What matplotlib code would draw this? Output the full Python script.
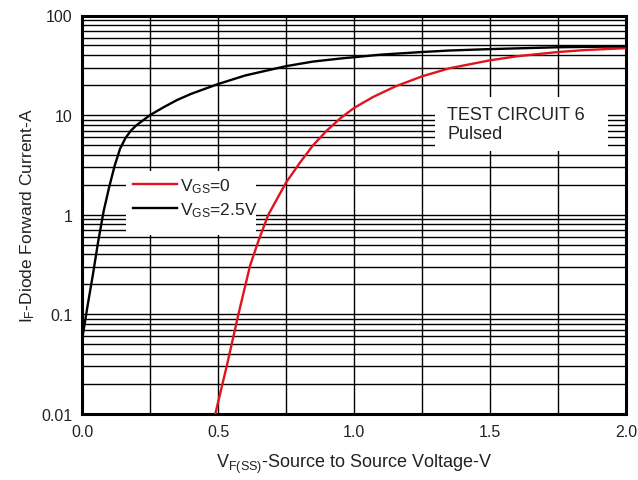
import matplotlib
matplotlib.use("Agg")
import matplotlib.pyplot as plt
from matplotlib.patches import Rectangle
from matplotlib.ticker import LogLocator, MultipleLocator, FixedLocator, FixedFormatter, NullFormatter

plt.rcParams['font.family'] = ['Liberation Sans', 'DejaVu Sans']
plt.rcParams['mathtext.fontset'] = 'custom'
plt.rcParams['mathtext.rm'] = 'Liberation Sans'
plt.rcParams['mathtext.it'] = 'Liberation Sans'
plt.rcParams['mathtext.bf'] = 'Liberation Sans'

# Data
v_gs25 = [0.0, 0.02, 0.04, 0.06, 0.08, 0.10, 0.12, 0.14, 0.16, 0.18, 0.20, 0.25, 0.30, 0.35, 0.40,
          0.50, 0.60, 0.75, 0.85, 0.95, 1.10, 1.25, 1.35, 1.50, 1.75, 2.00]
i_gs25 = [0.055, 0.12, 0.25, 0.55, 1.1, 1.9, 3.1, 4.6, 5.9, 7.0, 7.9, 10.0, 12.0, 14.2, 16.3,
          20.5, 25.0, 31.0, 34.5, 37.0, 40.5, 43.0, 44.5, 46.0, 48.0, 49.0]

v_gs0 = [0.49, 0.533, 0.575, 0.618, 0.65, 0.685, 0.75, 0.80, 0.85, 0.90, 0.95, 1.00, 1.07, 1.15,
         1.25, 1.35, 1.50, 1.60, 1.75, 1.85, 2.00]
i_gs0 = [0.01, 0.031, 0.10, 0.31, 0.56, 1.0, 2.1, 3.3, 5.0, 7.0, 9.3, 11.8, 15.2, 19.3,
         24.5, 29.5, 35.5, 39.0, 43.0, 45.0, 47.0]

x_ticks = [0.0, 0.5, 1.0, 1.5, 2.0]
x_labels = ["0.0", "0.5", "1.0", "1.5", "2.0"]
y_ticks = [0.01, 0.1, 1, 10, 100]
y_labels = ["0.01", "0.1", "1", "10", "100"]

fig = plt.figure(figsize=(6.38, 4.81), dpi=100)
ax = fig.add_axes([82/638, 1-415/481, 544/638, 398.5/481])

ax.set_yscale('log')
ax.set_xlim(0, 2.0)
ax.set_ylim(0.01, 100)

ax.xaxis.set_major_locator(FixedLocator(x_ticks))
ax.xaxis.set_major_formatter(FixedFormatter(x_labels))
ax.xaxis.set_minor_locator(MultipleLocator(0.25))
ax.yaxis.set_major_locator(FixedLocator(y_ticks))
ax.yaxis.set_major_formatter(FixedFormatter(y_labels))
ax.yaxis.set_minor_locator(LogLocator(base=10, subs=range(2, 10), numticks=20))
ax.yaxis.set_minor_formatter(NullFormatter())

ax.set_axisbelow(True)
ax.grid(which='both', color='black', linewidth=1.0)
ax.tick_params(which='both', length=0, labelsize=11.5, colors='#222222')
ax.tick_params(axis='y', pad=7)
ax.tick_params(axis='x', pad=7)

for s in ax.spines.values():
    s.set_linewidth(2.2)
    s.set_color('black')

# white boxes behind legend and note
ax.add_patch(Rectangle((0.081, 0.449), 0.239, 0.161, transform=ax.transAxes,
                       facecolor='white', edgecolor='none', zorder=1))
ax.add_patch(Rectangle((0.649, 0.66), 0.318, 0.1355, transform=ax.transAxes,
                       facecolor='white', edgecolor='none', zorder=1))

ax.plot(v_gs0, i_gs0, color='#e0141e', linewidth=1.7, zorder=3, label=r'V$_{GS}$=0')
ax.plot(v_gs25, i_gs25, color='black', linewidth=1.7, zorder=3, label=r'V$_{GS}$=2.5V')

leg = ax.legend(loc='upper left', bbox_to_anchor=(0.085, 0.61), frameon=False,
                fontsize=12.5, handlelength=2.5, handletextpad=0.2,
                labelspacing=0.3, borderaxespad=0, borderpad=0.3)
for t in leg.get_texts():
    t.set_color('#222222')

ax.text(0.671, 0.728, "TEST CIRCUIT 6\nPulsed", transform=ax.transAxes,
        fontsize=13, va='center', ha='left', color='#222222', linespacing=1.15, zorder=4)

ax.set_xlabel(r'V$_{F(SS)}$-Source to Source Voltage-V', fontsize=13, color='#222222')
ax.set_ylabel(r'I$_F$-Diode Forward Current-A', fontsize=12.5, color='#222222')
ax.xaxis.set_label_coords(0.5, -0.095)
ax.yaxis.set_label_coords(-0.083, 0.5)

fig.savefig('out.png', dpi=100)
